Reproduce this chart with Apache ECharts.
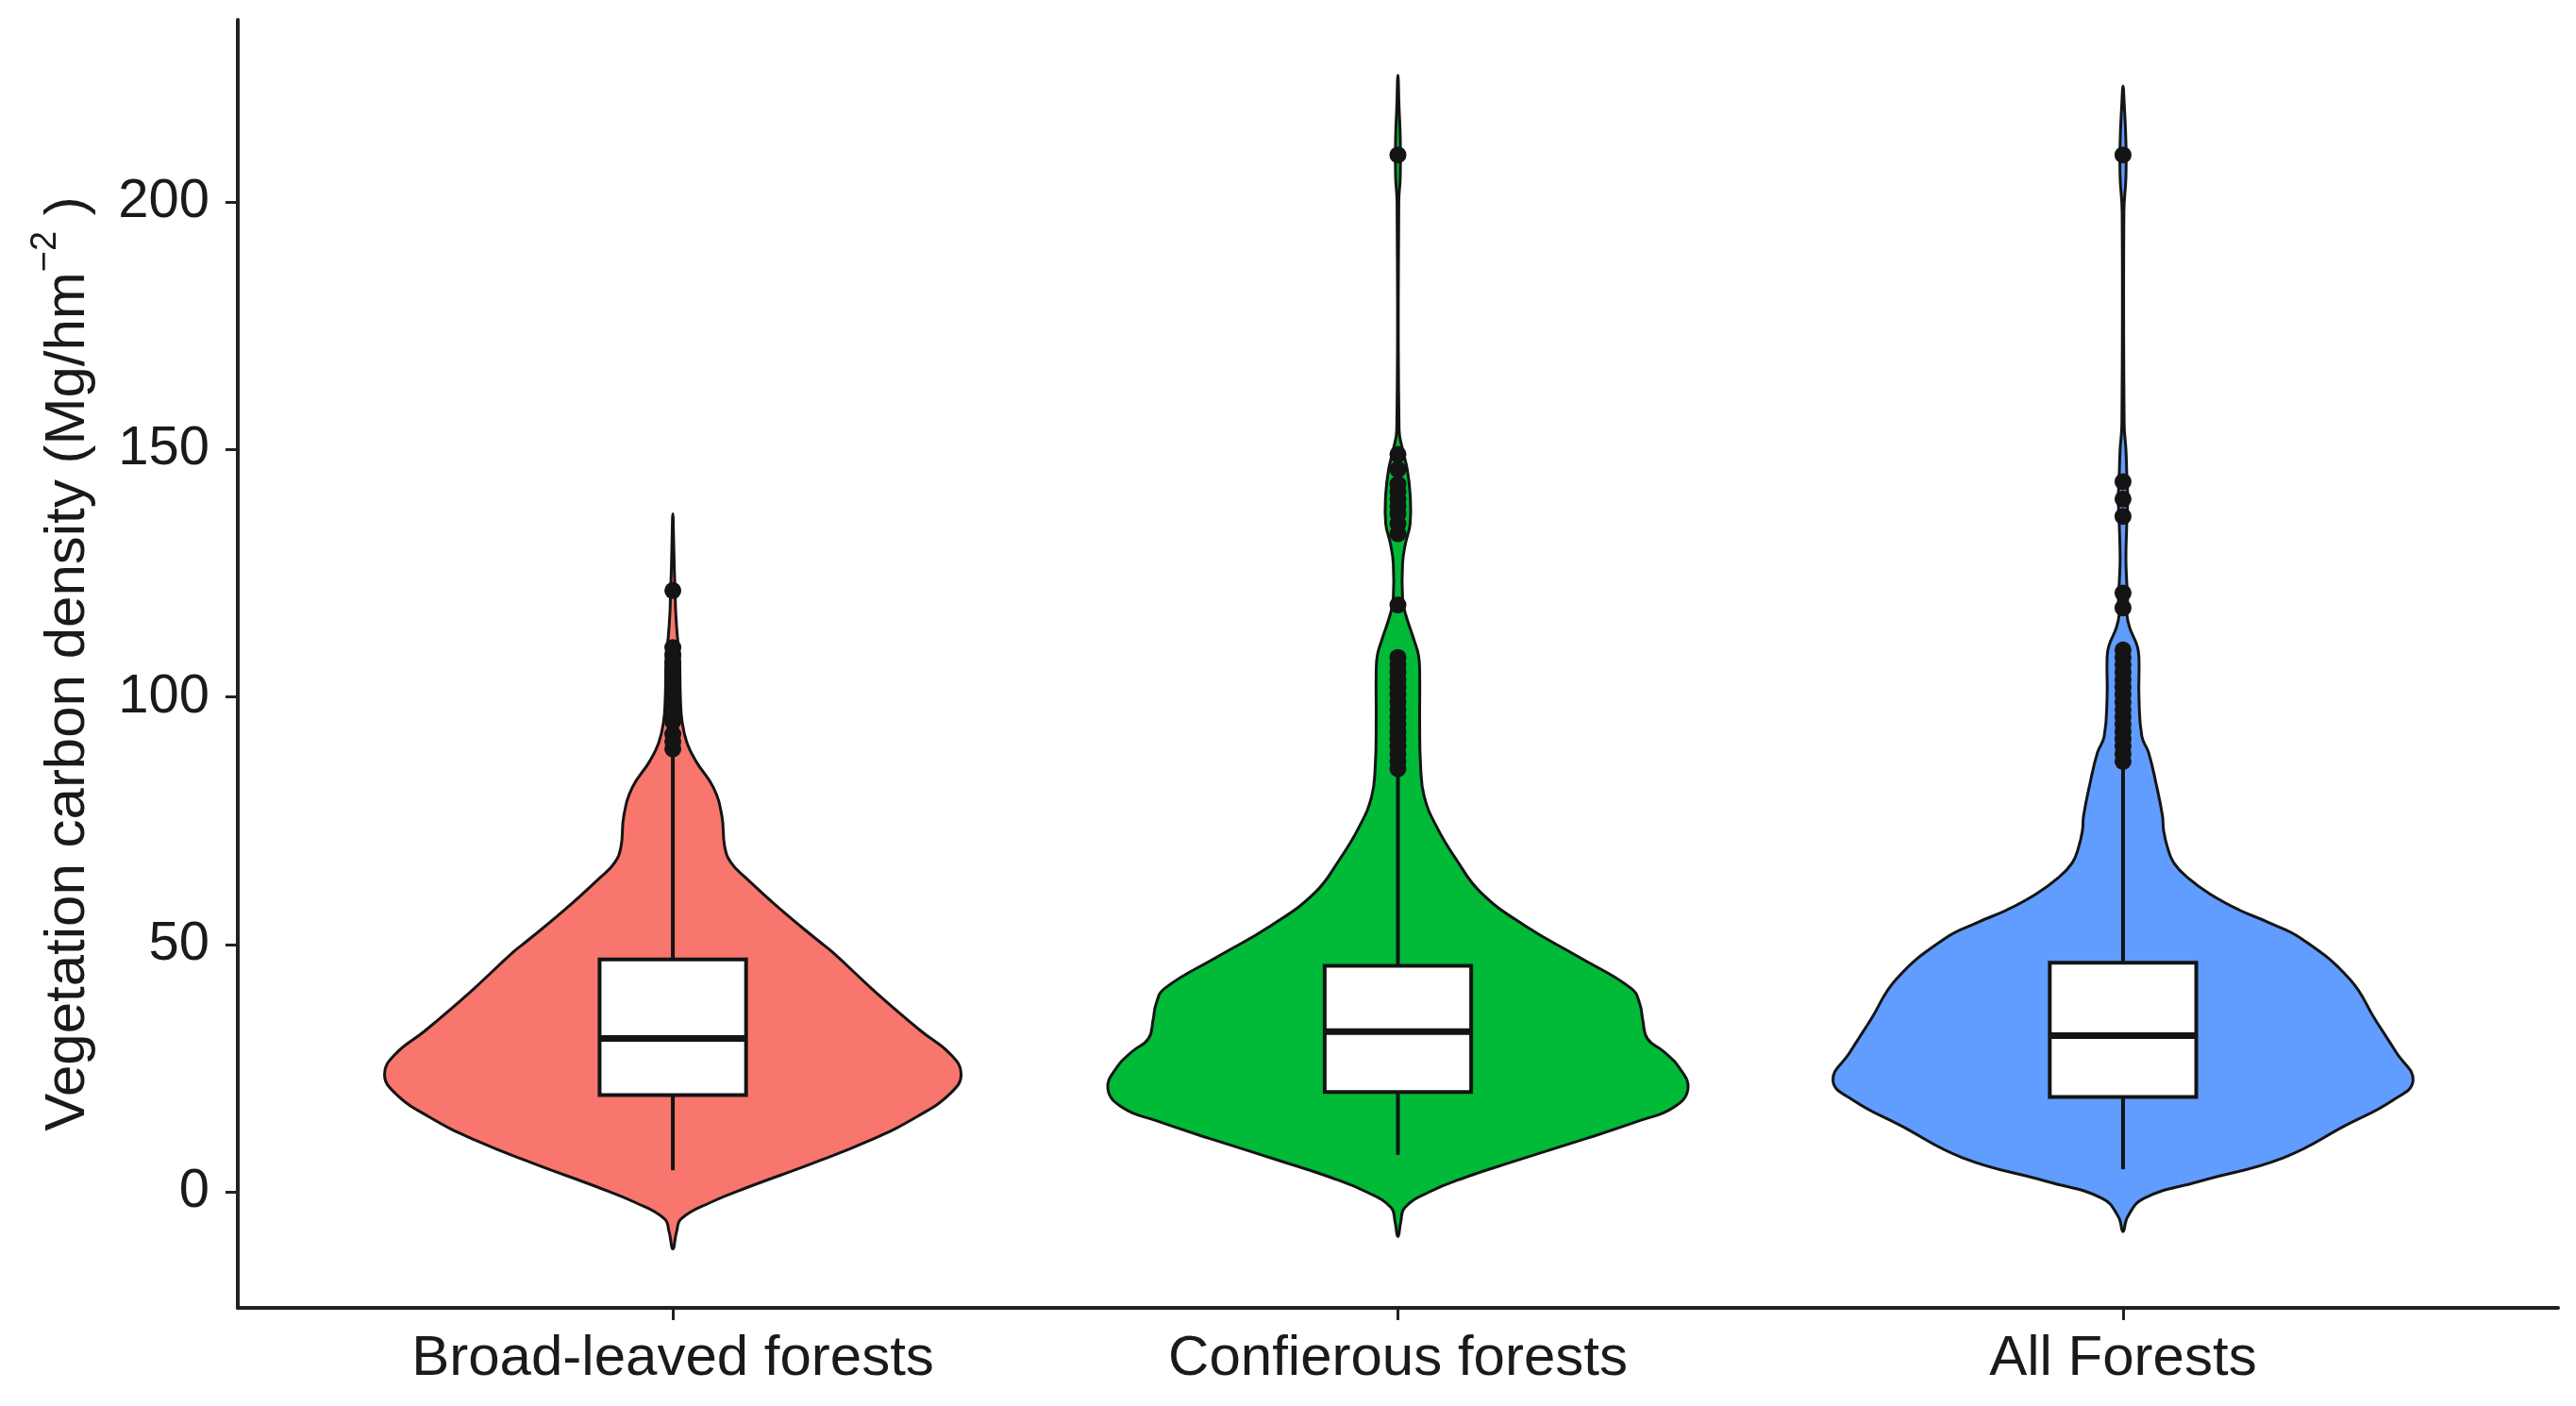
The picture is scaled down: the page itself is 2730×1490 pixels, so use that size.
<!DOCTYPE html>
<html>
<head>
<meta charset="utf-8">
<title>Vegetation carbon density</title>
<script src="https://cdn.jsdelivr.net/npm/echarts@6/dist/echarts.min.js"></script>
<style>
html, body { margin: 0; padding: 0; background: #fff; }
#main { width: 2730px; height: 1490px; }
</style>
</head>
<body>
<div id="main"></div>
<script>
var categories = ['Broad-leaved forests', 'Confierous forests', 'All Forests'];
var yTicks = [0, 50, 100, 150, 200];
var fillColors = ['#F8766D', '#00BA38', '#619CFF'];

// violin outlines: value levels and relative half widths (1 = widest)
var broadLevels = [-11.5, -8, -5.4, -2.1, 1, 5.7, 10.5, 15.2, 20, 23.8, 27.8, 32.6, 40.6, 48.4, 50.7, 57, 63.4, 66.5, 69.7, 76, 81.7, 86.9, 90.7, 95, 100, 108, 112, 117, 121, 126, 131, 137];
var broadWidths = [0, 0.013, 0.029, 0.13, 0.26, 0.477, 0.682, 0.841, 0.958, 0.994, 0.958, 0.854, 0.695, 0.552, 0.503, 0.373, 0.253, 0.201, 0.179, 0.169, 0.14, 0.081, 0.049, 0.032, 0.026, 0.023, 0.016, 0.01, 0.008, 0.005, 0.003, 0];

var conifLevels = [-9, -6, -3.2, -0.1, 3, 6.3, 10.7, 14.5, 17, 20.8, 25.3, 28.4, 31, 34.8, 38, 41.1, 47.5, 53.8, 60.5, 67.2, 73.5, 79.8, 86.3, 95, 105, 108.4, 111.6, 116.8, 120, 127, 131, 135, 141, 146, 150, 154, 200, 205, 213, 219, 225.6];
var conifWidths = [0, 0.01, 0.023, 0.104, 0.234, 0.406, 0.643, 0.838, 0.948, 1, 0.968, 0.916, 0.86, 0.844, 0.834, 0.805, 0.623, 0.438, 0.286, 0.201, 0.136, 0.091, 0.078, 0.075, 0.075, 0.071, 0.055, 0.026, 0.016, 0.016, 0.026, 0.042, 0.042, 0.032, 0.016, 0.004, 0.003, 0.008, 0.008, 0.004, 0];

var allLevels = [-8, -5, -1.3, 2.1, 6.9, 13.5, 18.5, 22.5, 28.2, 34.8, 43, 51.2, 54.5, 57, 60.2, 63.4, 66.5, 69.7, 73, 76, 82.5, 88.8, 92, 100, 107.8, 110.3, 114, 116.8, 120, 123, 128, 135, 140, 145, 150, 155, 198, 205, 212, 220, 223.4];
var allWidths = [0, 0.016, 0.071, 0.26, 0.552, 0.769, 0.929, 1, 0.942, 0.87, 0.782, 0.615, 0.5, 0.4, 0.3, 0.225, 0.175, 0.153, 0.14, 0.136, 0.114, 0.088, 0.065, 0.055, 0.055, 0.049, 0.023, 0.013, 0.016, 0.013, 0.01, 0.013, 0.016, 0.013, 0.01, 0.004, 0.003, 0.01, 0.01, 0.004, 0];

// boxplot stats: lower whisker, Q1, median, Q3, upper whisker
var broadBox = [4.4, 19.6, 31.0, 47.0, 88];
var conifBox = [7.5, 20.2, 32.4, 45.7, 84];
var allBox = [4.6, 19.2, 31.6, 46.3, 86];

var broadOutliers = [89.5, 91, 92.5, 95, 96.5, 98, 99.5, 101, 102.5, 104, 105.5, 107, 108.5, 110, 121.5];
var conifOutliers = [85.5, 87, 88.5, 90, 91.5, 93, 94.5, 96, 97.5, 99, 100.5, 102, 103.5, 105, 106.5, 108, 118.6, 133, 135, 137, 138.5, 140, 141.5, 143, 146, 149, 209.5];
var allOutliers = [87, 88.5, 90, 91.5, 93, 94.5, 96, 97.5, 99, 100.5, 102, 103.5, 105, 106.5, 108, 109.5, 118, 121, 136.5, 140, 143.5, 209.5];

var violins = [
	{ levels: broadLevels, widths: broadWidths },
	{ levels: conifLevels, widths: conifWidths },
	{ levels: allLevels, widths: allWidths }
];
var boxes = [broadBox, conifBox, allBox];
var outliers = [broadOutliers, conifOutliers, allOutliers];

var VIOLIN_HALF = 0.4;   // x units
var BOX_HALF = 0.101;
var INK = '#141414';
var FONT = 'Liberation Sans, Arial, sans-serif';

function renderViolin(params, api) {
	var i = api.value(0);
	var v = violins[i];
	var cx = i + 1;
	var right = [], left = [];
	for (var k = 0; k < v.levels.length; k++) {
		var hw = v.widths[k] * VIOLIN_HALF;
		right.push(api.coord([cx + hw, v.levels[k]]));
		if (k > 0 && k < v.levels.length - 1) {
			left.push(api.coord([cx - hw, v.levels[k]]));
		}
	}
	var pts = right.concat(left.reverse());
	return {
		type: 'polygon',
		shape: { points: pts, smooth: 0.45 },
		style: { fill: fillColors[i], stroke: INK, lineWidth: 3 }
	};
}

function renderBox(params, api) {
	var x = api.value(0);
	var lo = api.coord([x, api.value(1)]);
	var q1 = api.coord([x, api.value(2)]);
	var med = api.coord([x, api.value(3)]);
	var q3 = api.coord([x, api.value(4)]);
	var hi = api.coord([x, api.value(5)]);
	var half = api.size([BOX_HALF, 0])[0];
	return {
		type: 'group',
		children: [
			{ type: 'line', shape: { x1: lo[0], y1: lo[1], x2: q1[0], y2: q1[1] }, style: { stroke: INK, lineWidth: 4 } },
			{ type: 'line', shape: { x1: q3[0], y1: q3[1], x2: hi[0], y2: hi[1] }, style: { stroke: INK, lineWidth: 4 } },
			{ type: 'rect', shape: { x: q3[0] - half, y: q3[1], width: half * 2, height: q1[1] - q3[1] }, style: { fill: '#fff', stroke: INK, lineWidth: 4 } },
			{ type: 'line', shape: { x1: med[0] - half, y1: med[1], x2: med[0] + half, y2: med[1] }, style: { stroke: INK, lineWidth: 7 } }
		]
	};
}

var boxData = boxes.map(function (b, i) { return [i + 1].concat(b); });
var outlierData = [];
outliers.forEach(function (list, i) {
	list.forEach(function (v) { outlierData.push([i + 1, v]); });
});

var chart = echarts.init(document.getElementById('main'));
chart.setOption({
	animation: false,
	backgroundColor: '#fff',
	grid: { left: 252, right: 19, top: 21, bottom: 104, outerBoundsMode: 'none' },
	xAxis: {
		type: 'value',
		min: 0.4,
		max: 3.6,
		splitLine: { show: false },
		axisLine: { onZero: false, lineStyle: { color: '#222', width: 4 } },
		axisTick: { customValues: [1, 2, 3], length: 13, lineStyle: { color: '#222', width: 3 } },
		axisLabel: {
			customValues: [1, 2, 3],
			formatter: function (v) { return categories[Math.round(v) - 1]; },
			fontSize: 60, fontFamily: FONT, color: '#1a1a1a', margin: 24
		}
	},
	yAxis: {
		type: 'value',
		min: -23.4,
		max: 236.8,
		splitLine: { show: false },
		axisLine: { onZero: false, lineStyle: { color: '#222', width: 4 } },
		axisTick: { customValues: yTicks, length: 13, lineStyle: { color: '#222', width: 3 } },
		axisLabel: { customValues: yTicks, fontSize: 58, fontFamily: FONT, color: '#1a1a1a', margin: 30 },
		name: '{a|Vegetation carbon density (Mg/hm}{b|\u22122}{a| )}',
		nameLocation: 'middle',
		nameRotate: 90,
		nameGap: 150,
		nameTextStyle: {
			rich: {
				a: { fontSize: 60, lineHeight: 72, verticalAlign: 'bottom', fontFamily: FONT, color: '#1a1a1a' },
				b: { fontSize: 38, lineHeight: 38, verticalAlign: 'top', fontFamily: FONT, color: '#1a1a1a' }
			}
		}
	},
	series: [
		{
			type: 'custom',
			renderItem: renderViolin,
			data: [[0], [1], [2]],
			encode: { x: 0 },
			silent: true
		},
		{
			type: 'custom',
			renderItem: renderBox,
			data: boxData,
			encode: { x: 0, y: [1, 2, 3, 4, 5] },
			silent: true
		},
		{
			type: 'scatter',
			data: outlierData,
			symbol: 'circle',
			symbolSize: 18,
			itemStyle: { color: INK, opacity: 1 },
			silent: true
		}
	]
});
window.onresize = chart.resize;
</script>
</body>
</html>
